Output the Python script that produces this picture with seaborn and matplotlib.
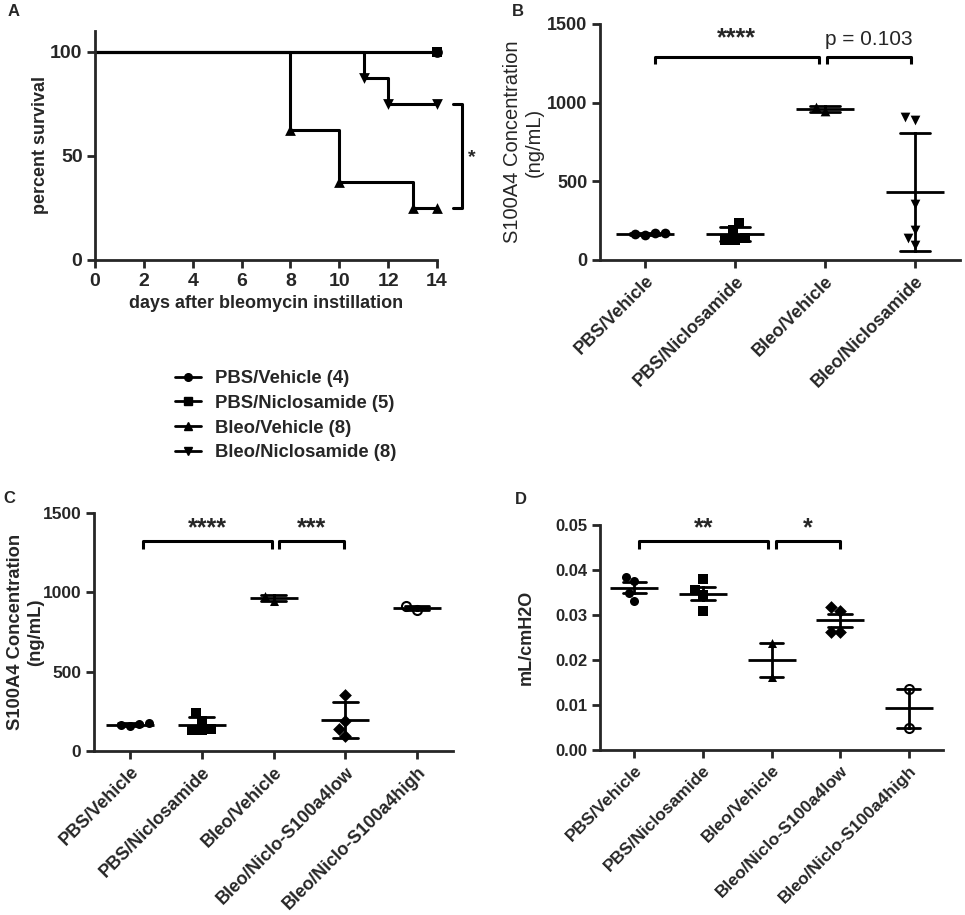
import matplotlib
matplotlib.use("Agg")
import matplotlib.pyplot as plt
from matplotlib.lines import Line2D
import numpy as np
import pandas as pd
import seaborn as sns

# ---- panel A: survival after bleomycin ----
surv_labels = ["PBS/Vehicle (4)", "PBS/Niclosamide (5)", "Bleo/Vehicle (8)", "Bleo/Niclosamide (8)"]
surv_markers = ["o", "s", "^", "v"]
pbs_veh_days = [0, 14]
pbs_veh_surv = [100, 100]
pbs_nic_days = [0, 14]
pbs_nic_surv = [100, 100]
bleo_veh_days = [0, 8, 10, 13, 14]
bleo_veh_surv = [100, 62.5, 37.5, 25, 25]
bleo_nic_days = [0, 11, 12, 14]
bleo_nic_surv = [100, 87.5, 75, 75]

# ---- panel B: S100A4 ----
b_groups = ["PBS/Vehicle", "PBS/Niclosamide", "Bleo/Vehicle", "Bleo/Niclosamide"]
b_markers = ["o", "s", "^", "v"]
pbs_veh_s100 = [170, 156, 174, 166]
pbs_nic_s100 = [237, 190, 140, 130, 130]
bleo_veh_s100 = [948, 975]
bleo_nic_s100 = [911, 890, 356, 191, 138, 95]

# ---- panel C: S100A4, niclosamide split by S100a4 level ----
c_groups = ["PBS/Vehicle", "PBS/Niclosamide", "Bleo/Vehicle",
            "Bleo/Niclo-S100a4low", "Bleo/Niclo-S100a4high"]
cd_markers = ["o", "s", "^", "D", "o"]
cd_hollow = [False, False, False, False, True]
low_s100 = [356, 191, 138, 95]
high_s100 = [911, 890]

# ---- panel D: compliance ----
pbs_veh_comp = [0.0385, 0.0376, 0.0348, 0.0332]
pbs_nic_comp = [0.0379, 0.0356, 0.0344, 0.0309]
bleo_veh_comp = [0.0237, 0.0163]
low_comp = [0.0318, 0.0310, 0.0262, 0.0262]
high_comp = [0.0135, 0.0050]

sns.set_style("ticks")
plt.rcParams["font.family"] = ["Liberation Sans", "DejaVu Sans"]
plt.rcParams["axes.linewidth"] = 2

fig = plt.figure(figsize=(9.65, 9.15), dpi=100)
W, H = 965, 915


def box(left, top, right, bottom):
    return [left / W, 1 - bottom / H, (right - left) / W, (bottom - top) / H]


def style_axis(ax, size):
    sns.despine(ax=ax)
    ax.tick_params(width=2, length=6, labelsize=size, pad=3)
    for lab in ax.get_xticklabels() + ax.get_yticklabels():
        lab.set_fontweight("bold")


def scatter_panel(ax, groups, values, markers, hollow, errorbar, mean_len, msize):
    df = pd.DataFrame({"group": np.repeat(groups, [len(v) for v in values]),
                       "value": np.concatenate(values)})
    for g, m, h in zip(groups, markers, hollow):
        sns.swarmplot(data=df[df["group"] == g], x="group", y="value", order=groups,
                      marker=m, color="white" if h else "black", edgecolor="black",
                      linewidth=1.5 if h else 0, size=msize, ax=ax, zorder=1)
    sns.pointplot(data=df, x="group", y="value", order=groups, errorbar=errorbar,
                  capsize=0.34, color="black", linestyle="none", marker="_",
                  markersize=mean_len, markeredgewidth=2, err_kws={"linewidth": 2}, ax=ax)
    ax.set_xlim(-0.5, len(groups) - 0.5)
    ax.set_xlabel("")


def bracket(ax, x0, x1, y, drop, text, ty, size, weight="bold"):
    ax.plot([x0, x0, x1, x1], [y - drop, y, y, y - drop], color="black", lw=2.2,
            clip_on=False, solid_capstyle="butt")
    ax.annotate(text, xy=((x0 + x1) / 2, ty), xytext=(0, -0.55 * size),
                textcoords="offset points", ha="center", va="baseline",
                fontsize=size, fontweight=weight, annotation_clip=False)


# ---------------- A ----------------
axA = fig.add_axes(box(95, 31, 437, 260))
surv = [(pbs_veh_days, pbs_veh_surv), (pbs_nic_days, pbs_nic_surv),
        (bleo_veh_days, bleo_veh_surv), (bleo_nic_days, bleo_nic_surv)]
for (d, s), m in zip(surv, surv_markers):
    sns.lineplot(x=d, y=s, drawstyle="steps-post", color="black", lw=2.2, ax=axA)
    sns.scatterplot(x=d[1:], y=s[1:], marker=m, color="black", s=60, linewidth=0,
                    clip_on=False, zorder=4, ax=axA)
axA.set_xlim(0, 14)
axA.set_ylim(0, 110)
axA.set_xticks(range(0, 15, 2))
axA.set_yticks([0, 50, 100])
axA.set_ylabel("percent survival", fontsize=13, fontweight="bold")
axA.set_xlabel("days after bleomycin instillation", fontsize=13, fontweight="bold", labelpad=4)
axA.yaxis.set_label_coords(-0.135, 0.5)
style_axis(axA, 14)
axA.plot([14.65, 15.02, 15.02, 14.65], [75, 75, 25, 25], color="black", lw=2.2, clip_on=False)
axA.annotate("*", xy=(15.43, 52), xytext=(0, -0.55 * 14), textcoords="offset points",
             ha="center", va="baseline", fontsize=14, fontweight="bold", annotation_clip=False)

handles = [Line2D([], [], color="black", lw=2, marker=m, markersize=5.5) for m in surv_markers]
fig.legend(handles, surv_labels, loc="upper left", bbox_to_anchor=(175 / W, 1 - 370 / H),
           frameon=False, borderpad=0, borderaxespad=0, handlelength=1.4, handletextpad=0.75,
           labelspacing=0.42, prop={"weight": "bold", "size": 13.3})

# ---------------- B ----------------
axB = fig.add_axes(box(600, 24, 960, 260))
scatter_panel(axB, b_groups, [pbs_veh_s100, pbs_nic_s100, bleo_veh_s100, bleo_nic_s100],
              b_markers, [False] * 4, "sd", 42, 7)
axB.set_ylim(0, 1500)
axB.set_yticks([0, 500, 1000, 1500])
axB.set_ylabel("S100A4 Concentration\n(ng/mL)", fontsize=14.5)
axB.yaxis.set_label_coords(-0.155, 0.5)
axB.set_xticks(range(len(b_groups)))
axB.set_xticklabels(b_groups, rotation=45, ha="right", rotation_mode="anchor")
style_axis(axB, 13)
bracket(axB, 0.11, 1.93, 1290, 45, "****", 1450, 18)
bracket(axB, 2.02, 2.95, 1290, 45, "p = 0.103", 1440, 15, weight="normal")

# ---------------- C ----------------
axC = fig.add_axes(box(94, 513, 453, 751))
scatter_panel(axC, c_groups,
              [pbs_veh_s100, pbs_nic_s100, bleo_veh_s100, low_s100, high_s100],
              cd_markers, cd_hollow, "sd", 34, 6.5)
axC.set_ylim(0, 1500)
axC.set_yticks([0, 500, 1000, 1500])
axC.set_ylabel("S100A4 Concentration\n(ng/mL)", fontsize=13.2, fontweight="bold")
axC.yaxis.set_label_coords(-0.14, 0.5)
axC.set_xticks(range(len(c_groups)))
axC.set_xticklabels(c_groups, rotation=45, ha="right", rotation_mode="anchor")
style_axis(axC, 12.5)
axC.tick_params(axis="x", labelsize=13)
bracket(axC, 0.18, 1.98, 1324, 53, "****", 1446, 18)
bracket(axC, 2.08, 2.98, 1324, 53, "***", 1446, 18)

# ---------------- D ----------------
axD = fig.add_axes(box(600, 525, 943, 750))
scatter_panel(axD, c_groups,
              [pbs_veh_comp, pbs_nic_comp, bleo_veh_comp, low_comp, high_comp],
              cd_markers, cd_hollow, "se", 34, 6.5)
axD.set_ylim(0, 0.05)
axD.set_yticks([0, 0.01, 0.02, 0.03, 0.04, 0.05])
axD.set_yticklabels([f"{v:.2f}" for v in [0, 0.01, 0.02, 0.03, 0.04, 0.05]])
axD.set_ylabel("mL/cmH2O", fontsize=13, fontweight="bold")
axD.yaxis.set_label_coords(-0.19, 0.5)
axD.set_xticks(range(len(c_groups)))
axD.set_xticklabels(c_groups, rotation=45, ha="right", rotation_mode="anchor")
style_axis(axD, 12)
axD.tick_params(axis="x", labelsize=12.5)
bracket(axD, 0.07, 1.95, 0.0464, 0.0017, "**", 0.0507, 18)
bracket(axD, 2.07, 3.0, 0.0464, 0.0017, "*", 0.0507, 18)

for letter, x, y in [("A", 8, 4), ("B", 512, 4), ("C", 3, 491), ("D", 515, 492)]:
    fig.text(x / W, 1 - y / H, letter, fontsize=12, fontweight="bold", va="top", ha="left")

fig.savefig("out.png", dpi=100)
